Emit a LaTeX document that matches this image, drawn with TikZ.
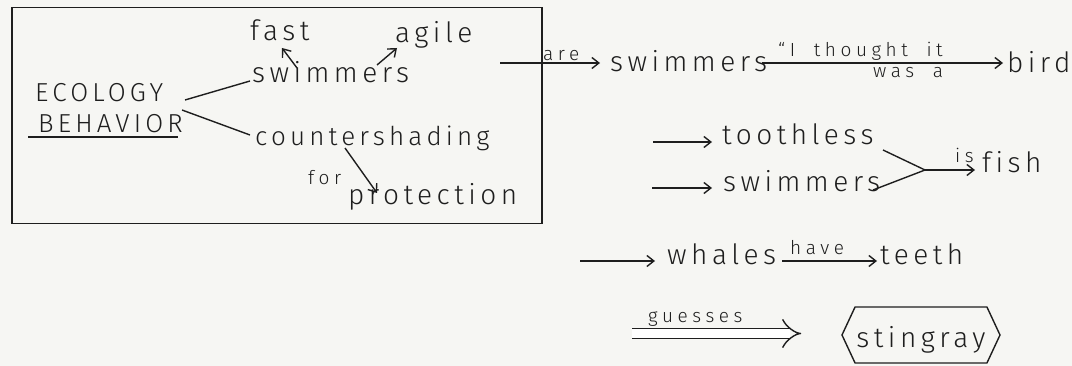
\documentclass[tikz,border=0pt]{standalone}
\usepackage{fontspec}
\setmainfont{Fira Sans Light}
\newfontfamily\bigfam{Fira Sans Light}[LetterSpace=16,Ligatures=NoCommon]
\newfontfamily\labfam{Fira Sans Light}[LetterSpace=24,WordSpace=1.9,Ligatures=NoCommon]
\usetikzlibrary{arrows.meta,calc,shapes.symbols}
\definecolor{ink}{RGB}{30,30,30}
\definecolor{paper}{RGB}{246,246,243}
\newcommand{\bigtxt}{\bigfam\fontsize{28}{32}\selectfont}
\newcommand{\midtxt}{\bigfam\fontsize{26}{30}\selectfont}
\newcommand{\smalltxt}{\labfam\fontsize{19}{22}\selectfont}
\begin{document}
\begin{tikzpicture}[x=1pt,y=-1pt,color=ink,
  txt/.style={inner sep=0pt,anchor=base west,font=\bigtxt,text=ink},
  mtxt/.style={inner sep=0pt,anchor=base west,font=\midtxt,text=ink},
  lbl/.style={inner sep=0pt,anchor=base west,font=\smalltxt,text=ink},
  ln/.style={line width=1.4pt,draw=ink},
  arr/.style={ln,-{Straight Barb[length=7pt,width=11pt,line width=1.4pt]}},
  dbl/.style={draw=ink,line width=1.4pt,double distance=9pt,-{Implies[length=11pt]}}]
\fill[paper] (0,0) rectangle (1072,366);
\useasboundingbox (0,0) rectangle (1072,366);
% box
\node[draw=ink,line width=1.5pt,minimum width=530pt,minimum height=216pt,anchor=north west,inner sep=0pt] (box) at (11,7) {};
% left texts
\node[mtxt] (eco) at (35,102) {ECOLOGY};
\node[mtxt] (beh) at (38,133) {BEHAVIOR};
\draw[ln] ($(beh.base west)+(-10,4)$) -- ($(beh.base west)+(140,4)$);
\node[txt] (sw1) at (252,83) {swimmers};
\node[txt] (fast) at (250,41) {fast};
\node[txt] (agile) at (395,43) {agile};
\node[mtxt] (cs) at (255,146) {countershading};
\node[lbl] (for) at (308,185) {for};
\node[txt] (prot) at (348,205) {protection};
\draw[ln] ($(eco.base west)+(150,-2)$) -- ($(sw1.base west)+(-2,-2)$);
\draw[ln] ($(eco.base west)+(147,8)$) -- ($(cs.base west)+(-5,-11)$);
\draw[arr] ($(sw1.base west)+(45,-15)$) -- ($(fast.base west)+(32,7)$);
\draw[arr] ($(sw1.base west)+(125,-18)$) -- ($(agile.base west)+(2,5)$);
\draw[arr] ($(cs.base west)+(90,2)$) -- ($(prot.base west)+(29,-12)$);
% right column
\coordinate (a0) at (500,63);
\node[lbl] (are) at (543,61) {are};
\node[txt] (sw2) at (610,72) {swimmers};
\node[txt] (bird) at (1007,73) {bird};
\draw[arr] (a0) -- ($(sw2.base west)+(-10,-9)$);
\draw[arr] ($(sw2.base west)+(152,-9)$) -- ($(bird.base west)+(-4,-10)$);
\node[lbl] (thought) at (778,57) {“I thought it};
\node[lbl] (wasa) at (873,78) {was a};
% fish group
\coordinate (t0) at (653,142);
\coordinate (s0) at (652,188);
\node[txt] (tooth) at (722,145) {toothless};
\node[txt] (sw3) at (723,192) {swimmers};
\node[txt] (fish) at (982,173) {fish};
\coordinate (j) at (925,170);
\node[lbl] (is) at (955,163) {is};
\draw[arr] (t0) -- ($(tooth.base west)+(-10,-3)$);
\draw[arr] (s0) -- ($(sw3.base west)+(-11,-4)$);
\draw[ln] ($(tooth.base west)+(161,5)$) -- (j);
\draw[ln] ($(sw3.base west)+(150,-2)$) -- (j);
\draw[arr] (j) -- ($(fish.base west)+(-7,-3)$);
% whales
\coordinate (w0) at (580,261);
\node[txt] (wh) at (667,265) {whales};
\node[txt] (teeth) at (880,265) {teeth};
\node[lbl] (have) at (790,255) {have};
\draw[arr] (w0) -- ($(wh.base west)+(-12,-4)$);
\draw[arr] ($(wh.base west)+(115,-4)$) -- ($(teeth.base west)+(-3,-4)$);
% guesses
\coordinate (g0) at (632,333.5);
\node[lbl] (guess) at (648,323) {guesses};
\node[draw=ink,line width=1.4pt,signal,signal to=east and west,signal pointer angle=130,
  minimum width=158pt,minimum height=56pt,inner sep=0pt,font=\bigtxt,
  text height=32pt,text depth=7pt] (sting) at (921,335) {stingray};
\draw[dbl] (g0) -- ($(sting.west)+(-40,-1.5)$);
\end{tikzpicture}
\end{document}
